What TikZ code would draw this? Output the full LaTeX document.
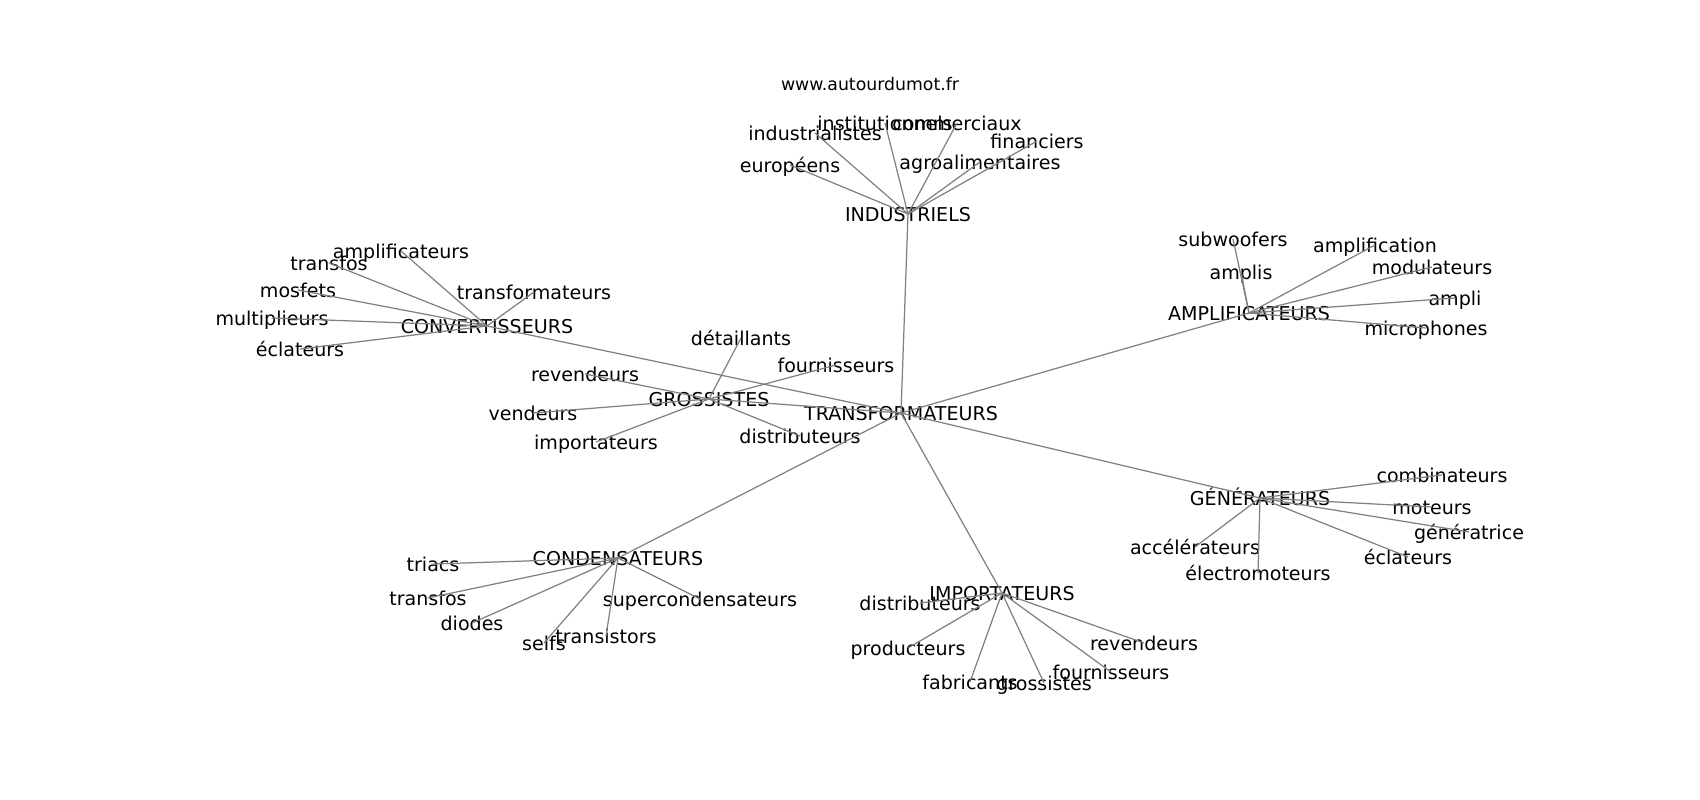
\documentclass[tikz,border=0pt]{standalone}
\usepackage{fontspec}
\setmainfont{DejaVu Sans}
\usetikzlibrary{positioning}

\begin{document}
\begin{tikzpicture}[
    x=0.02cm, y=-0.02cm,
    word/.style={inner sep=0pt, text height=0.93em, text depth=0.07em,
                 font=\fontsize{10.85}{13}\selectfont, text=black},
    hub/.style={word},
    titlebox/.style={word, font=\fontsize{9.85}{12}\selectfont},
    edge/.style={draw=black!50, line width=0.7pt}
]
\useasboundingbox (0,0) rectangle (1700,800);

% Title
\node[titlebox] (site) at (870,83) {www.autourdumot.fr};

% Hubs
\node[hub] (trans) at (901,413) {TRANSFORMATEURS};
\node[hub] (indus) at (908,214) {INDUSTRIELS};
\node[hub] (conv) at (487,326) {CONVERTISSEURS};
\node[hub] (gross) at (709,399) {GROSSISTES};
\node[hub] (ampl) at (1249,313) {AMPLIFICATEURS};
\node[hub] (gen) at (1260,498) {GÉNÉRATEURS};
\node[hub] (cond) at (618,558) {CONDENSATEURS};
\node[hub] (impo) at (1002,593) {IMPORTATEURS};

% Industriels words
\node[word] (industrialistes) at (815,133) {industrialistes};
\node[word] (institutionnels) at (885,123) {institutionnels};
\node[word] (commerciaux) at (957,123) {commerciaux};
\node[word] (financiers) at (1037,141) {financiers};
\node[word] (agro) at (980,162) {agroalimentaires};
\node[word] (europeens) at (790,165) {européens};

% Convertisseurs words
\node[word] (amplificateurs) at (401,251) {amplificateurs};
\node[word] (transfosA) at (329,263) {transfos};
\node[word] (mosfets) at (298,290) {mosfets};
\node[word] (multiplieurs) at (272,318) {multiplieurs};
\node[word] (eclateursA) at (300,349) {éclateurs};
\node[word] (transformateurs) at (534,292) {transformateurs};

% Grossistes words
\node[word] (detaillants) at (741,338) {détaillants};
\node[word] (fournisseursA) at (836,365) {fournisseurs};
\node[word] (revendeursA) at (585,374) {revendeurs};
\node[word] (vendeurs) at (533,413) {vendeurs};
\node[word] (importateurs) at (596,442) {importateurs};
\node[word] (distributeursA) at (800,436) {distributeurs};

% Amplificateurs words
\node[word] (subwoofers) at (1233,239) {subwoofers};
\node[word] (amplis) at (1241,272) {amplis};
\node[word] (amplification) at (1375,245) {amplification};
\node[word] (modulateurs) at (1432,267) {modulateurs};
\node[word] (ampli) at (1455,298) {ampli};
\node[word] (microphones) at (1426,328) {microphones};

% Generateurs words
\node[word] (combinateurs) at (1442,475) {combinateurs};
\node[word] (moteurs) at (1432,507) {moteurs};
\node[word] (generatrice) at (1469,532) {génératrice};
\node[word] (eclateursB) at (1408,557) {éclateurs};
\node[word] (accelerateurs) at (1195,547) {accélérateurs};
\node[word] (electromoteurs) at (1258,573) {électromoteurs};

% Condensateurs words
\node[word] (triacs) at (433,564) {triacs};
\node[word] (transfosB) at (428,598) {transfos};
\node[word] (diodes) at (472,623) {diodes};
\node[word] (selfs) at (544,643) {selfs};
\node[word] (transistors) at (606,636) {transistors};
\node[word] (supercond) at (700,599) {supercondensateurs};

% Importateurs words
\node[word] (distributeursB) at (920,603) {distributeurs};
\node[word] (producteurs) at (908,648) {producteurs};
\node[word] (fabricants) at (970,682) {fabricants};
\node[word] (grossistes) at (1044,683) {grossistes};
\node[word] (fournisseursB) at (1111,672) {fournisseurs};
\node[word] (revendeursB) at (1144,643) {revendeurs};

% Center to hubs
\draw[edge] (trans.center) -- (indus.center);
\draw[edge] (trans.center) -- (conv.center);
\draw[edge] (trans.center) -- (gross.center);
\draw[edge] (trans.center) -- (ampl.center);
\draw[edge] (trans.center) -- (gen.center);
\draw[edge] (trans.center) -- (cond.center);
\draw[edge] (trans.center) -- (impo.center);

% Industriels
\draw[edge] (indus.center) -- (industrialistes.center);
\draw[edge] (indus.center) -- (institutionnels.center);
\draw[edge] (indus.center) -- (commerciaux.center);
\draw[edge] (indus.center) -- (financiers.center);
\draw[edge] (indus.center) -- (agro.center);
\draw[edge] (indus.center) -- (europeens.center);

% Convertisseurs
\draw[edge] (conv.center) -- (amplificateurs.center);
\draw[edge] (conv.center) -- (transfosA.center);
\draw[edge] (conv.center) -- (mosfets.center);
\draw[edge] (conv.center) -- (multiplieurs.center);
\draw[edge] (conv.center) -- (eclateursA.center);
\draw[edge] (conv.center) -- (transformateurs.center);

% Grossistes
\draw[edge] (gross.center) -- (detaillants.center);
\draw[edge] (gross.center) -- (fournisseursA.center);
\draw[edge] (gross.center) -- (revendeursA.center);
\draw[edge] (gross.center) -- (vendeurs.center);
\draw[edge] (gross.center) -- (importateurs.center);
\draw[edge] (gross.center) -- (distributeursA.center);

% Amplificateurs
\draw[edge] (ampl.center) -- (subwoofers.center);
\draw[edge] (ampl.center) -- (amplis.center);
\draw[edge] (ampl.center) -- (amplification.center);
\draw[edge] (ampl.center) -- (modulateurs.center);
\draw[edge] (ampl.center) -- (ampli.center);
\draw[edge] (ampl.center) -- (microphones.center);

% Generateurs
\draw[edge] (gen.center) -- (combinateurs.center);
\draw[edge] (gen.center) -- (moteurs.center);
\draw[edge] (gen.center) -- (generatrice.center);
\draw[edge] (gen.center) -- (eclateursB.center);
\draw[edge] (gen.center) -- (accelerateurs.center);
\draw[edge] (gen.center) -- (electromoteurs.center);

% Condensateurs
\draw[edge] (cond.center) -- (triacs.center);
\draw[edge] (cond.center) -- (transfosB.center);
\draw[edge] (cond.center) -- (diodes.center);
\draw[edge] (cond.center) -- (selfs.center);
\draw[edge] (cond.center) -- (transistors.center);
\draw[edge] (cond.center) -- (supercond.center);

% Importateurs
\draw[edge] (impo.center) -- (distributeursB.center);
\draw[edge] (impo.center) -- (producteurs.center);
\draw[edge] (impo.center) -- (fabricants.center);
\draw[edge] (impo.center) -- (grossistes.center);
\draw[edge] (impo.center) -- (fournisseursB.center);
\draw[edge] (impo.center) -- (revendeursB.center);

\end{tikzpicture}
\end{document}
